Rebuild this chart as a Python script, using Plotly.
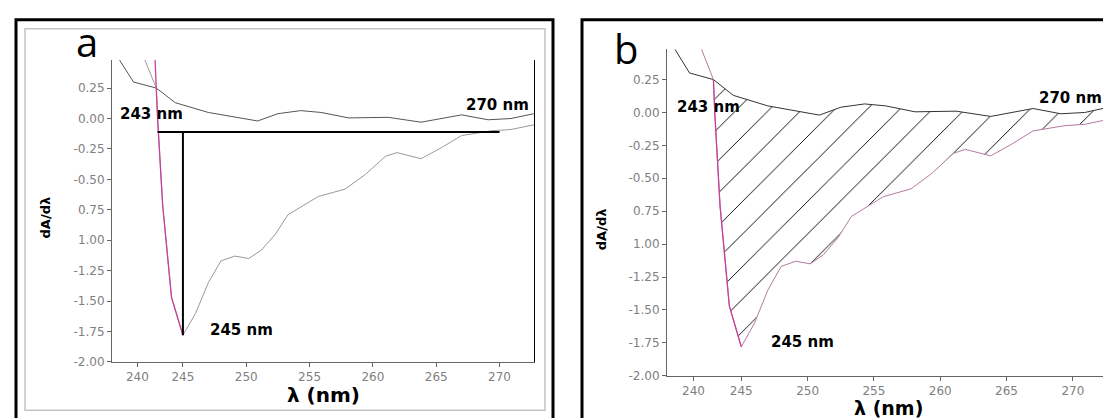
import plotly.graph_objects as go

W, H = 1111, 418

# ---- data ----
upper_wl = [240.0, 241.1, 242.9, 244.4, 247.0, 250.9, 252.5, 254.3, 255.9, 258.1,
            261.2, 263.8, 267.0, 269.1, 270.9, 272.7]
upper_val = [0.48, 0.30, 0.25, 0.13, 0.05, -0.02, 0.04, 0.065, 0.05, 0.005,
             0.01, -0.03, 0.03, -0.01, 0.00, 0.04]

lower_wl = [242.0, 242.9, 243.0, 243.4, 244.1, 245.0, 246.0, 247.0, 248.0, 249.1,
            250.2, 251.2, 252.3, 253.3, 255.7, 257.8, 259.4, 261.0, 261.9, 263.8,
            265.4, 267.0, 269.4, 270.9, 272.8]
lower_val = [0.48, 0.25, 0.0, -0.71, -1.47, -1.78, -1.60, -1.35, -1.17, -1.13,
             -1.15, -1.08, -0.95, -0.79, -0.64, -0.58, -0.46, -0.31, -0.28, -0.33,
             -0.24, -0.14, -0.10, -0.09, -0.05]

# steep (magenta) part of the derivative curve
steep_wl = [242.8, 242.9, 243.0, 243.4, 244.1, 245.0]
steep_val = [0.48, 0.25, 0.0, -0.71, -1.47, -1.78]

y_tickvals = [-2.0, -1.75, -1.5, -1.25, -1.0, -0.75, -0.5, -0.25, 0.0, 0.25]
y_ticktext = ["-2.00", "-1.75", "-1.50", "-1.25", "1.00", "0.75", "-0.50", "-0.25", "0.00", "0.25"]
x_tickvals = [241.4, 245, 250, 255, 260, 265, 270]
x_ticktext = ["240", "245", "250", "255", "260", "265", "270"]

start_nm, peak_nm, end_nm = 243.0, 245.0, 270.0
baseline_val = -0.11
peak_val = -1.78
limit_nm = 272.8
XR = [239.4, 272.8]
YR = [-2.0, 0.48]

fig = go.Figure()

GRAY_TXT = "#808080"
MAG = "#c8409c"


def px(x):
    return x / W


def py(y):
    return 1 - y / H


# ---- panel a ----
fig.add_trace(go.Scatter(x=upper_wl, y=upper_val, mode="lines",
                         line=dict(color="#555555", width=1), xaxis="x", yaxis="y"))
fig.add_trace(go.Scatter(x=lower_wl, y=lower_val, mode="lines",
                         line=dict(color="#9a9a9a", width=1), xaxis="x", yaxis="y"))
fig.add_trace(go.Scatter(x=steep_wl, y=steep_val, mode="lines",
                         line=dict(color=MAG, width=1.3), xaxis="x", yaxis="y"))
fig.add_trace(go.Scatter(x=[start_nm, end_nm], y=[baseline_val, baseline_val], mode="lines",
                         line=dict(color="black", width=2), xaxis="x", yaxis="y"))
fig.add_trace(go.Scatter(x=[peak_nm, peak_nm], y=[baseline_val, peak_val], mode="lines",
                         line=dict(color="black", width=2), xaxis="x", yaxis="y"))
fig.add_trace(go.Scatter(x=[limit_nm, limit_nm], y=YR, mode="lines",
                         line=dict(color="black", width=2), xaxis="x", yaxis="y"))

# ---- panel b ----
poly_x = [w for w in upper_wl if w >= 242.9] + [w for w in lower_wl if w >= 242.9][::-1]
poly_y = [v for w, v in zip(upper_wl, upper_val) if w >= 242.9] + \
         [v for w, v in zip(lower_wl, lower_val) if w >= 242.9][::-1]
fig.add_trace(go.Scatter(x=poly_x, y=poly_y, mode="lines", fill="toself",
                         line=dict(width=0), fillcolor="rgba(255,255,255,0)",
                         fillpattern=dict(shape="/", size=23, solidity=0.04,
                                          fgcolor="#000000", fgopacity=1,
                                          bgcolor="rgba(255,255,255,0)"),
                         xaxis="x2", yaxis="y2"))
fig.add_trace(go.Scatter(x=upper_wl, y=upper_val, mode="lines",
                         line=dict(color="#333333", width=1), xaxis="x2", yaxis="y2"))
fig.add_trace(go.Scatter(x=lower_wl, y=lower_val, mode="lines",
                         line=dict(color="#b27c9f", width=1), xaxis="x2", yaxis="y2"))
fig.add_trace(go.Scatter(x=steep_wl[1:], y=steep_val[1:], mode="lines",
                         line=dict(color=MAG, width=1.3), xaxis="x2", yaxis="y2"))
fig.add_trace(go.Scatter(x=[limit_nm, limit_nm], y=YR, mode="lines",
                         line=dict(color="black", width=2), xaxis="x2", yaxis="y2"))

axis_common = dict(showgrid=False, zeroline=False, showline=True, linecolor="#666666",
                   linewidth=1, ticks="outside", ticklen=4, tickcolor="#666666",
                   tickfont=dict(family="DejaVu Sans", size=12, color=GRAY_TXT))

fig.update_layout(
    width=W, height=H, margin=dict(l=0, r=0, t=0, b=0),
    paper_bgcolor="white", plot_bgcolor="white", showlegend=False,
    xaxis=dict(domain=[px(104), px(527)], range=XR, anchor="y",
               tickvals=x_tickvals, ticktext=x_ticktext, **axis_common),
    yaxis=dict(domain=[py(360), py(53)], range=YR, anchor="x",
               tickvals=y_tickvals, ticktext=y_ticktext, **axis_common),
    xaxis2=dict(domain=[px(659), px(1102)], range=XR, anchor="y2",
                tickvals=x_tickvals, ticktext=x_ticktext, **axis_common),
    yaxis2=dict(domain=[py(374), py(42)], range=YR, anchor="x2",
                tickvals=y_tickvals, ticktext=y_ticktext, **axis_common),
)

lbl_font = dict(family="DejaVu Sans", size=15, color="black", weight=900)
ann = []
for xr, yr in (("x", "y"), ("x2", "y2")):
    ann.append(dict(text="<b>243 nm</b>", x=242.5, y=0.04, xref=xr, yref=yr,
                    xanchor="center", yanchor="middle", showarrow=False, font=lbl_font))
    ann.append(dict(text="<b>270 nm</b>", x=269.8, y=0.11, xref=xr, yref=yr,
                    xanchor="center", yanchor="middle", showarrow=False, font=lbl_font))
    ann.append(dict(text="<b>245 nm</b>", x=249.6, y=-1.74, xref=xr, yref=yr,
                    xanchor="center", yanchor="middle", showarrow=False, font=lbl_font))

title_font = dict(family="DejaVu Sans", size=20, color="black")
title_font_b = dict(family="DejaVu Sans", size=19, color="black")
ytitle_font = dict(family="DejaVu Sans", size=13, color="black")
letter_font = dict(family="Open Sans", size=40, color="black")


def pann(text, x, y, font, angle=0):
    return dict(text=text, x=px(x), y=py(y), xref="paper", yref="paper",
                xanchor="center", yanchor="middle", showarrow=False,
                font=font, textangle=angle)


ann += [
    pann("<b>λ (nm)</b>", 315, 394, title_font),
    pann("<b>λ (nm)</b>", 880, 407, title_font_b),
    pann("<b>dA/dλ</b>", 37, 213, ytitle_font, -90),
    pann("<b>dA/dλ</b>", 593, 225, ytitle_font, -90),
    pann("a", 79, 34, letter_font),
    pann("b", 618, 41, letter_font),
]
fig.update_layout(annotations=ann)

shapes = [
    # panel a frames
    dict(type="rect", xref="paper", yref="paper", x0=px(17), x1=px(537), y0=py(409), y1=py(21),
         line=dict(color="#c4c4c4", width=1.5)),
    dict(type="rect", xref="paper", yref="paper", x0=px(8), x1=px(545), y0=py(430), y1=py(12),
         line=dict(color="black", width=3)),
    # panel b frame
    dict(type="rect", xref="paper", yref="paper", x0=px(574), x1=px(1130), y0=py(430), y1=py(12),
         line=dict(color="black", width=3)),
]
fig.update_layout(shapes=shapes)

fig.write_html("out.html")
